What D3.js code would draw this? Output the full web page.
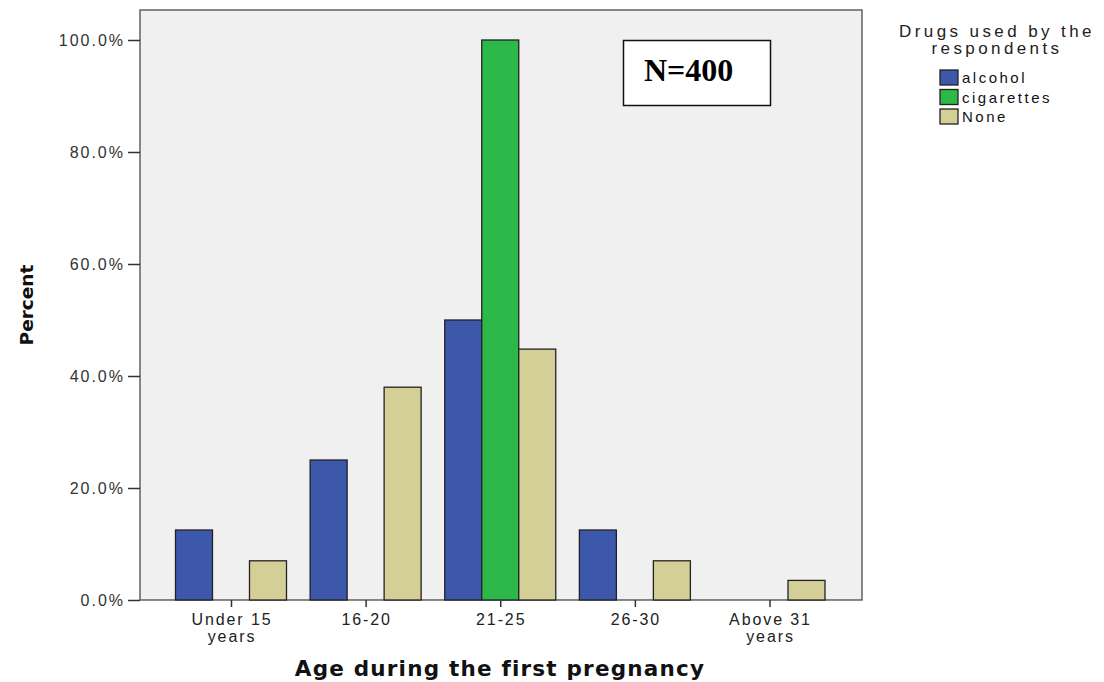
<!DOCTYPE html>
<html><head><meta charset="utf-8">
<script src="https://cdn.jsdelivr.net/npm/d3@7"></script>
<style>body{margin:0;background:#fff;}</style>
</head><body>
<svg id="c" width="1104" height="682"></svg>
<script>
const categories = [["Under 15","years"],["16-20"],["21-25"],["26-30"],["Above 31","years"]];
const seriesNames = ["alcohol","cigarettes","None"];
const alcohol = [12.5, 25, 50, 12.5, 0];
const cigarettes = [0, 0, 100, 0, 0];
const none = [7, 38, 44.8, 7, 3.5];
const yTicks = [0, 20, 40, 60, 80, 100];
const colors = ["#3d57ab", "#2db84a", "#d4cf97"];
const series = [alcohol, cigarettes, none];

const SANS = "'Liberation Sans', Arial, sans-serif";
const BOLD = "'DejaVu Sans', Verdana, sans-serif";
const svg = d3.select("#c");
const L = 140, R = 862, T = 10, B = 600;
const y = d3.scaleLinear().domain([0, 100]).range([B, 40]);
const xc = d3.scalePoint().domain(d3.range(categories.length)).range([231, 769.5]);
const x1 = d3.scaleBand().domain(d3.range(3)).range([-55.5, 55.5]);

svg.append("rect").attr("x", L).attr("y", T).attr("width", R - L).attr("height", B - T)
  .attr("fill", "#f0f0f0").attr("stroke", "#4a4a4a").attr("stroke-width", 1.3);

const g = svg.append("g");
categories.forEach((c, i) => {
  series.forEach((s, j) => {
    g.append("rect")
      .attr("x", xc(i) + x1(j)).attr("width", x1.bandwidth())
      .attr("y", y(s[i])).attr("height", B - y(s[i]))
      .attr("fill", colors[j]).attr("stroke", "#222").attr("stroke-width", 1.3);
  });
});

// y axis
const ya = svg.append("g").attr("transform", `translate(${L},0)`)
  .call(d3.axisLeft(y).tickValues(yTicks).tickSize(12).tickFormat(d => d.toFixed(1) + "%"));
ya.select(".domain").remove();
ya.selectAll("line").attr("stroke", "#333").attr("stroke-width", 1.5);
ya.selectAll("text").attr("x", -15).attr("dy", "0.36em")
  .style("font-family", SANS).style("font-size", "16px").style("letter-spacing", "2px").attr("fill", "#333");

// x axis
const xa = svg.append("g").attr("transform", `translate(0,${B})`)
  .call(d3.axisBottom(xc).tickSize(7).tickFormat(""));
xa.select(".domain").remove();
xa.selectAll("line").attr("stroke", "#333").attr("stroke-width", 1.5);
categories.forEach((c, i) => {
  const t = svg.append("text").attr("x", xc(i)).attr("y", 625)
    .attr("text-anchor", "middle").attr("fill", "#222")
    .style("font-family", SANS).style("font-size", "16px").style("letter-spacing", "1.9px");
  c.forEach((line, k) => t.append("tspan").attr("x", xc(i) + 1).attr("dy", k === 0 ? 0 : 17).text(line));
});

// axis titles
svg.append("text").attr("x", 500).attr("y", 676).attr("text-anchor", "middle").attr("fill", "#111")
  .style("font-family", BOLD).style("font-weight", "bold").style("font-size", "21.5px").style("letter-spacing", "1.2px")
  .text("Age during the first pregnancy");
svg.append("text").attr("transform", "translate(33,305) rotate(-90)").attr("text-anchor", "middle").attr("fill", "#111")
  .style("font-family", BOLD).style("font-weight", "bold").style("font-size", "18.5px")
  .text("Percent");

// N box
svg.append("rect").attr("x", 623.5).attr("y", 40.5).attr("width", 147).attr("height", 65)
  .attr("fill", "#fff").attr("stroke", "#111").attr("stroke-width", 1.5);
svg.append("text").attr("x", 644).attr("y", 81).attr("fill", "#000")
  .style("font-family", "'Liberation Serif', 'Times New Roman', serif").style("font-weight", "bold").style("font-size", "32px")
  .text("N=400");

// legend
const lg = svg.append("g");
[["Drugs used by the", 37], ["respondents", 54]].forEach(([t, yy]) => {
  lg.append("text").attr("x", 997).attr("y", yy).attr("text-anchor", "middle").attr("fill", "#222")
    .style("font-family", SANS).style("font-size", "17px").style("letter-spacing", "3.4px").text(t);
});
seriesNames.forEach((n, j) => {
  const yy = 70 + j * 19.5;
  lg.append("rect").attr("x", 940).attr("y", yy).attr("width", 18).attr("height", 15)
    .attr("fill", colors[j]).attr("stroke", "#222").attr("stroke-width", 1.3);
  lg.append("text").attr("x", 962).attr("y", yy + 13).attr("fill", "#111")
    .style("font-family", SANS).style("font-size", "15px").style("letter-spacing", "2.5px").text(n);
});
</script>
</body></html>
